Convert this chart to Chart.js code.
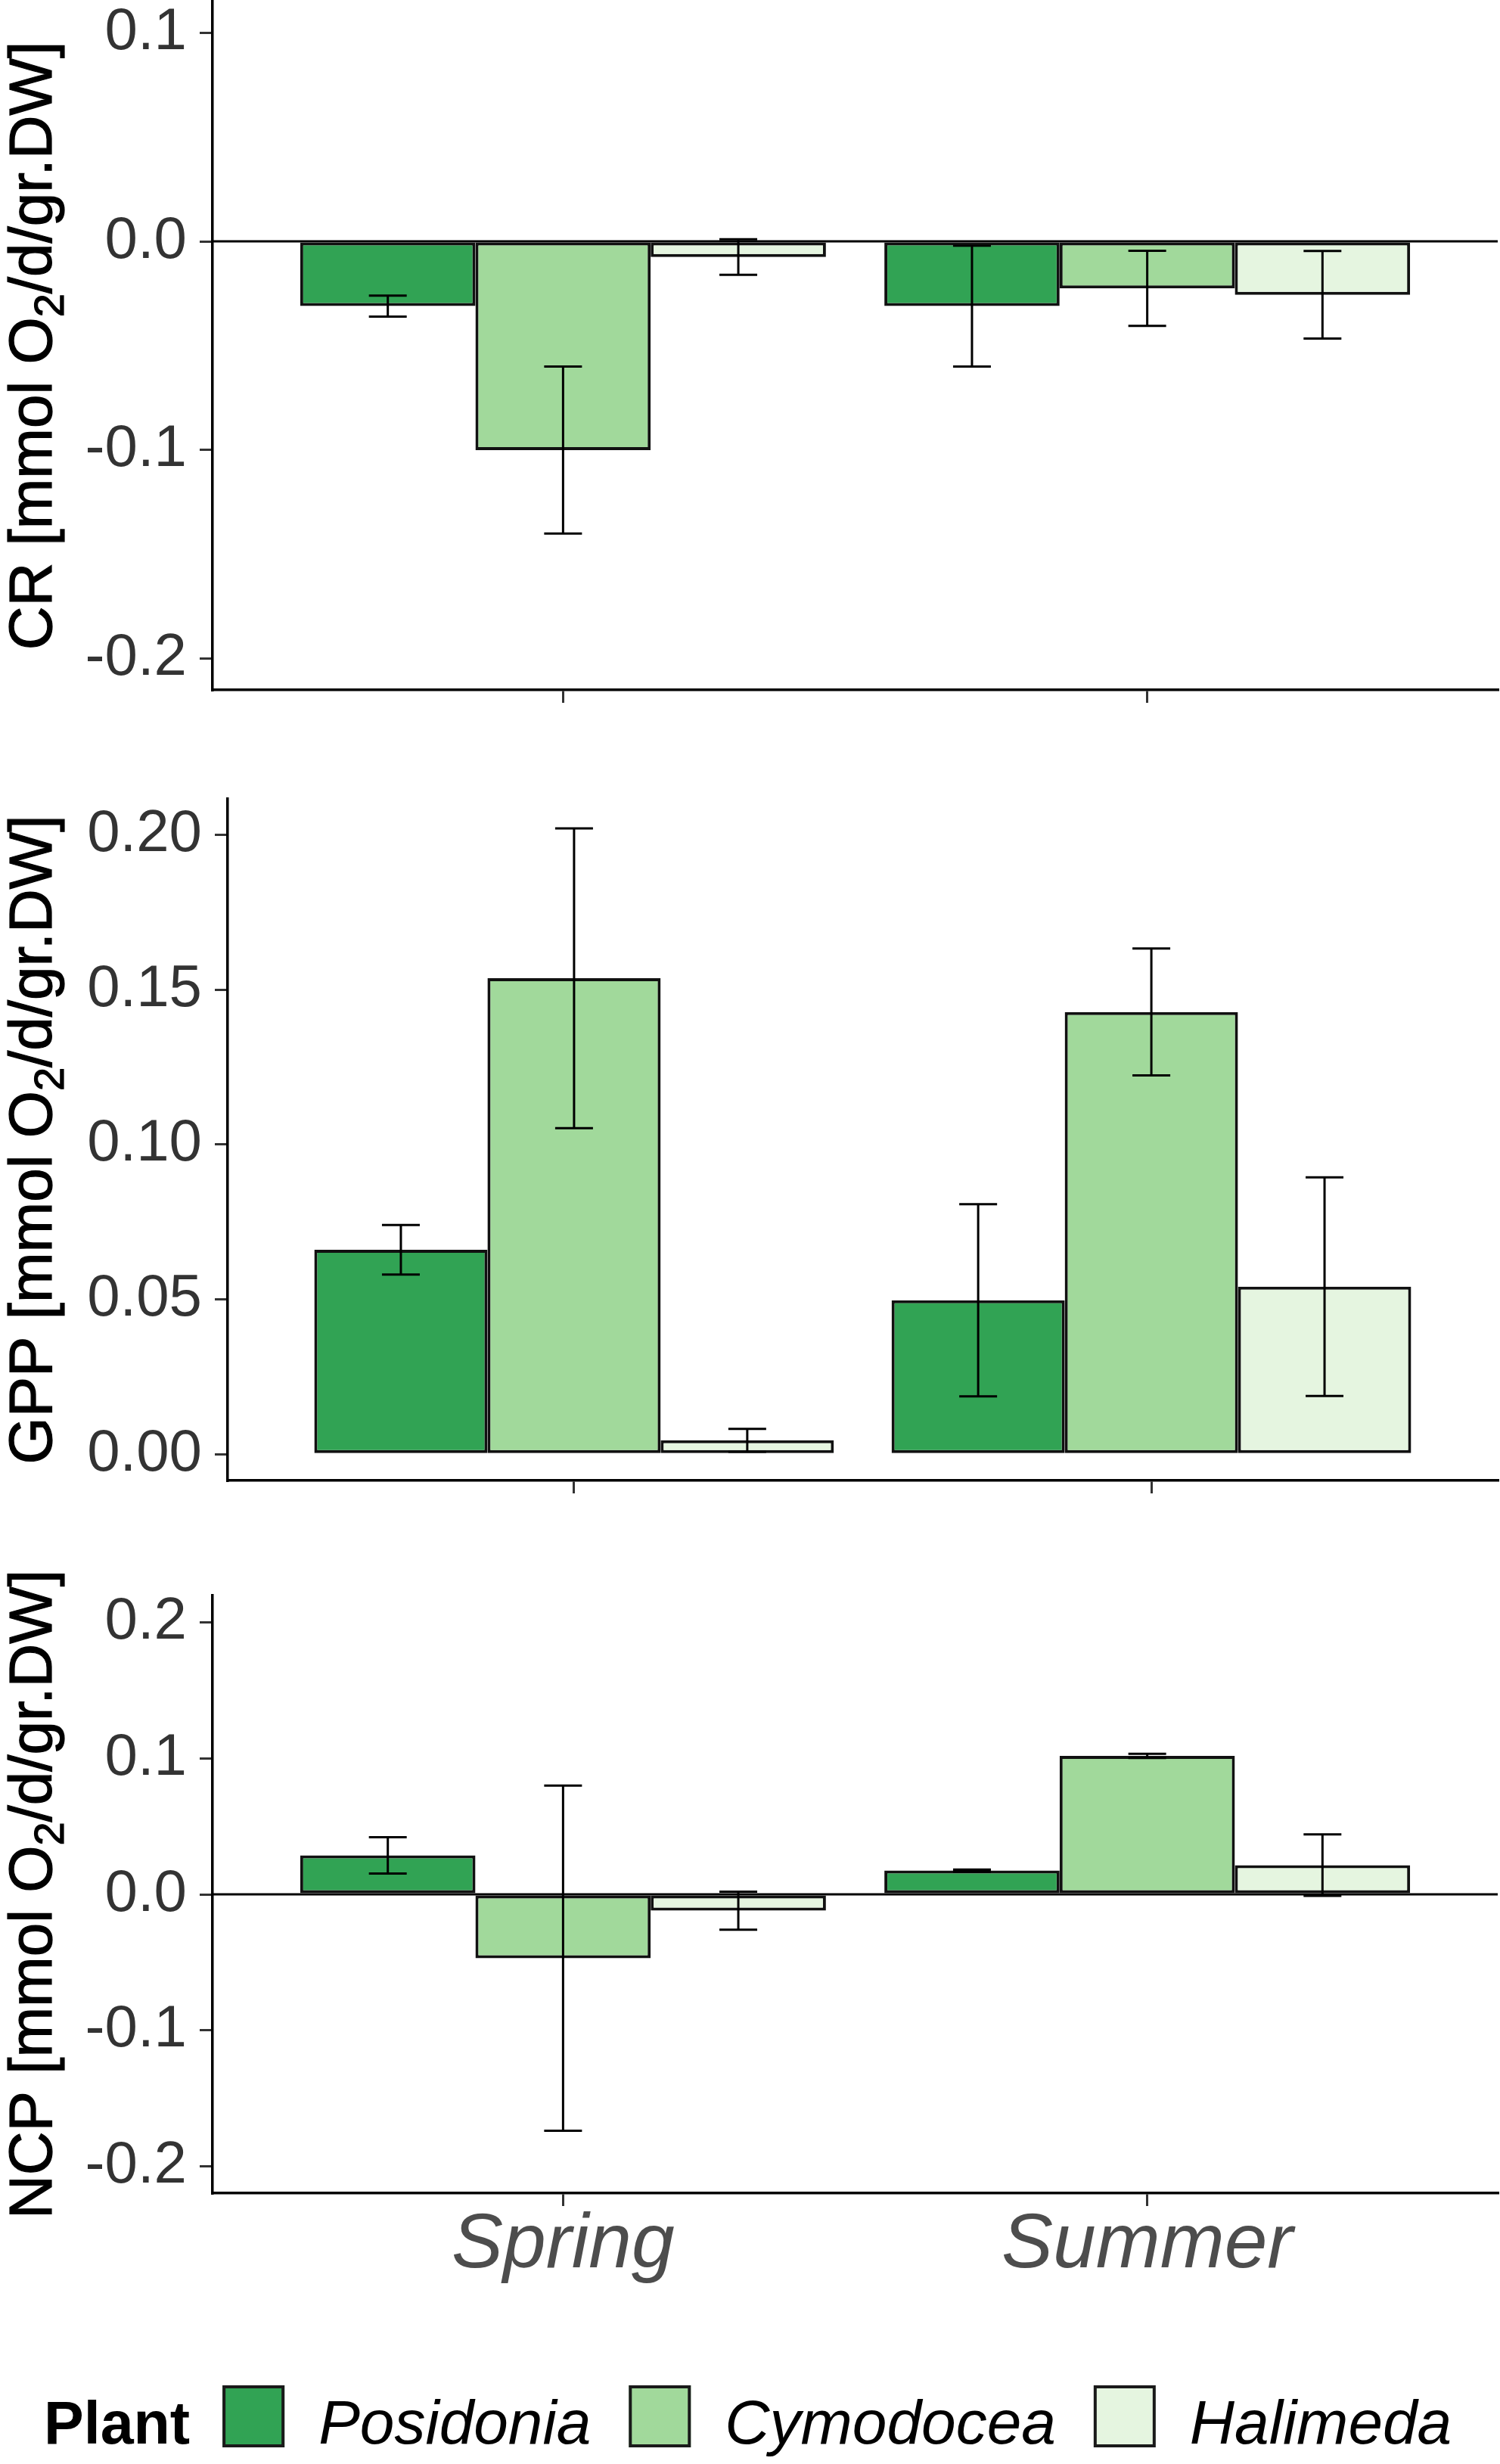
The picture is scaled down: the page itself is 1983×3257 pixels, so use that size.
<!DOCTYPE html>
<html>
<head>
<meta charset="utf-8">
<script src="https://cdn.jsdelivr.net/npm/chart.js@4.4.1/dist/chart.umd.min.js"></script>
<style>
    html, body { margin: 0; padding: 0; background: #fff; }
    #wrap { position: relative; width: 1983px; height: 3257px; }
    canvas { position: absolute; left: 0; }
</style>
</head>
<body>
<div id="wrap">
    <canvas id="crChart" width="1983" height="1000" style="top:0"></canvas>
    <canvas id="gppChart" width="1983" height="1020" style="top:1000px"></canvas>
    <canvas id="ncpChart" width="1983" height="1237" style="top:2020px"></canvas>
</div>
<script>
const seasons = ['Spring', 'Summer'];
const seasonPositions = [0, 1];
const plants = ['Posidonia', 'Cymodocea', 'Halimeda'];
const plantColors = ['#31a354', '#a1d99b', '#e5f5e0'];

// CR (respiration), values per season [Spring, Summer]
const crPosidonia = [-0.031, -0.031];
const crCymodocea = [-0.100, -0.0225];
const crHalimeda = [-0.0075, -0.0256];
const crPosidoniaErr = [0.005, 0.029];
const crCymodoceaErr = [0.040, 0.018];
const crHalimedaErr = [0.0085, 0.021];
const crTicks = [-0.2, -0.1, 0, 0.1];
const crTickLabels = ['-0.2', '-0.1', '0.0', '0.1'];

// GPP
const gppPosidonia = [0.066, 0.0497];
const gppCymodocea = [0.1537, 0.1428];
const gppHalimeda = [0.0045, 0.0541];
const gppPosidoniaErr = [0.008, 0.031];
const gppCymodoceaErr = [0.0484, 0.0205];
const gppHalimedaErr = [0.0037, 0.0353];
const gppTicks = [0, 0.05, 0.1, 0.15, 0.2];
const gppTickLabels = ['0.00', '0.05', '0.10', '0.15', '0.20'];

// NCP
const ncpPosidonia = [0.0287, 0.0175];
const ncpCymodocea = [-0.047, 0.1019];
const ncpHalimeda = [-0.012, 0.0215];
const ncpPosidoniaErr = [0.0134, 0.0008];
const ncpCymodoceaErr = [0.127, 0.0015];
const ncpHalimedaErr = [0.014, 0.0226];
const ncpTicks = [-0.2, -0.1, 0, 0.1, 0.2];
const ncpTickLabels = ['-0.2', '-0.1', '0.0', '0.1', '0.2'];

const FONT = '"Liberation Sans", Arial, sans-serif';

const errorBarPlugin = {
    id: 'errorBars',
    afterDatasetsDraw(chart) {
        const ctx = chart.ctx;
        const yScale = chart.scales.y;
        ctx.save();
        ctx.strokeStyle = '#000';
        ctx.lineWidth = 3;
        chart.data.datasets.forEach((ds, i) => {
            const meta = chart.getDatasetMeta(i);
            meta.data.forEach((bar, j) => {
                const m = ds.data[j].y;
                const e = ds.errorBars[j];
                const yTop = yScale.getPixelForValue(m + e);
                const yBot = yScale.getPixelForValue(m - e);
                ctx.beginPath();
                ctx.moveTo(bar.x, yTop); ctx.lineTo(bar.x, yBot);
                ctx.moveTo(bar.x - 25, yTop); ctx.lineTo(bar.x + 25, yTop);
                ctx.moveTo(bar.x - 25, yBot); ctx.lineTo(bar.x + 25, yBot);
                ctx.stroke();
            });
        });
        ctx.restore();
    }
};

const zeroLinePlugin = {
    id: 'zeroLine',
    beforeDatasetsDraw(chart, args, opts) {
        if (!opts.display) return;
        const a = chart.chartArea;
        const y = chart.scales.y.getPixelForValue(0);
        const ctx = chart.ctx;
        ctx.save();
        ctx.strokeStyle = '#000';
        ctx.lineWidth = 3;
        ctx.beginPath();
        ctx.moveTo(a.left, y); ctx.lineTo(a.right, y);
        ctx.stroke();
        ctx.restore();
    }
};

const yTitlePlugin = {
    id: 'yTitle',
    afterDraw(chart, args, opts) {
        const ctx = chart.ctx;
        const a = chart.chartArea;
        const parts = [
            [opts.pre, '80px ' + FONT, 0],
            ['2', '56px ' + FONT, 16],
            [opts.post, '80px ' + FONT, 0]
        ];
        ctx.save();
        let total = 0;
        parts.forEach(p => { ctx.font = p[1]; p.push(ctx.measureText(p[0]).width); total += p[3]; });
        ctx.translate(68, (a.top + a.bottom) / 2);
        ctx.rotate(-Math.PI / 2);
        ctx.fillStyle = '#000';
        ctx.strokeStyle = '#000';
        ctx.lineWidth = 1.2;
        ctx.textAlign = 'left';
        ctx.textBaseline = 'alphabetic';
        let x = -total / 2;
        parts.forEach(p => {
            ctx.font = p[1];
            ctx.fillText(p[0], x, p[2]);
            ctx.strokeText(p[0], x, p[2]);
            x += p[3];
        });
        ctx.restore();
    }
};

const plantLegendPlugin = {
    id: 'plantLegend',
    afterDraw(chart, args, opts) {
        if (!opts.display) return;
        const ctx = chart.ctx;
        const baseline = 1210, keyTop = 1133, keySize = 82;
        ctx.save();
        ctx.fillStyle = '#000';
        ctx.textBaseline = 'alphabetic';
        ctx.textAlign = 'left';
        ctx.font = 'bold 79px ' + FONT;
        let x = 58;
        ctx.fillText('Plant', x, baseline);
        x += ctx.measureText('Plant').width + 43;
        chart.data.datasets.forEach(ds => {
            ctx.fillStyle = ds.backgroundColor;
            ctx.fillRect(x, keyTop, keySize, keySize);
            ctx.strokeStyle = '#1a1a1a';
            ctx.lineWidth = 4;
            ctx.strokeRect(x + 2, keyTop + 2, keySize - 4, keySize - 4);
            x += keySize + 45;
            ctx.fillStyle = '#000';
            ctx.font = 'italic 82px ' + FONT;
            ctx.fillText(ds.label, x, baseline);
            x += ctx.measureText(ds.label).width + 50;
        });
        ctx.restore();
    }
};

function makeDatasets(means, errs) {
    return plants.map((p, i) => ({
        label: p,
        data: seasonPositions.map((sx, j) => ({ x: sx, y: means[i][j] })),
        errorBars: errs[i],
        backgroundColor: plantColors[i],
        borderColor: '#111',
        borderWidth: 4,
        borderSkipped: false,
        categoryPercentage: 0.9,
        barPercentage: 1.0
    }));
}

function makePanel(id, o) {
    return new Chart(document.getElementById(id), {
        type: 'bar',
        data: { datasets: makeDatasets(o.means, o.errs) },
        options: {
            responsive: false,
            animation: false,
            layout: { padding: { top: o.top, right: 3, bottom: 0, left: 0 } },
            plugins: {
                legend: { display: false },
                tooltip: { enabled: false },
                zeroLine: { display: o.zeroLine },
                yTitle: { pre: o.titlePre, post: '/d/gr.DW]' },
                plantLegend: { display: o.legend }
            },
            scales: {
                x: {
                    type: 'linear',
                    min: -0.6,
                    max: 1.6,
                    offset: false,
                    afterBuildTicks: s => { s.ticks = seasonPositions.map(v => ({ value: v })); },
                    afterFit: s => { s.height = o.xHeight; s.paddingLeft = 0; s.paddingRight = 0; },
                    border: { display: true, color: '#000', width: 3.5 },
                    grid: { display: true, offset: false, drawOnChartArea: false, drawTicks: true, tickLength: 17, color: '#333', lineWidth: 3 },
                    ticks: {
                        autoSkip: false,
                        maxRotation: 0,
                        padding: 2,
                        color: '#4d4d4d',
                        font: { family: FONT, size: 102, style: 'italic', lineHeight: 1 },
                        callback: v => o.showSeasons ? seasons[v] : ''
                    }
                },
                y: {
                    min: o.range[0],
                    max: o.range[1],
                    afterBuildTicks: s => { s.ticks = o.ticks.map(v => ({ value: v })); },
                    afterFit: s => { s.width = o.yWidth; s.paddingTop = 0; s.paddingBottom = 0; },
                    border: { display: true, color: '#000', width: 3.5 },
                    grid: { display: true, drawOnChartArea: false, drawTicks: true, tickLength: 17, color: '#333', lineWidth: 3 },
                    ticks: {
                        autoSkip: false,
                        padding: 17,
                        color: '#333',
                        font: { family: FONT, size: 78 },
                        callback: (v, i) => o.tickLabels[i]
                    }
                }
            }
        },
        plugins: [zeroLinePlugin, errorBarPlugin, yTitlePlugin, plantLegendPlugin]
    });
}

makePanel('crChart', {
    means: [crPosidonia, crCymodocea, crHalimeda],
    errs: [crPosidoniaErr, crCymodoceaErr, crHalimedaErr],
    ticks: crTicks, tickLabels: crTickLabels, range: [-0.215, 0.115],
    top: 2, xHeight: 88, yWidth: 281, zeroLine: true, showSeasons: false, legend: false,
    titlePre: 'CR [mmol O'
});

makePanel('gppChart', {
    means: [gppPosidonia, gppCymodocea, gppHalimeda],
    errs: [gppPosidoniaErr, gppCymodoceaErr, gppHalimedaErr],
    ticks: gppTicks, tickLabels: gppTickLabels, range: [-0.0085, 0.2116],
    top: 56, xHeight: 63, yWidth: 301, zeroLine: false, showSeasons: false, legend: false,
    titlePre: 'GPP [mmol O'
});

makePanel('ncpChart', {
    means: [ncpPosidonia, ncpCymodocea, ncpHalimeda],
    errs: [ncpPosidoniaErr, ncpCymodoceaErr, ncpHalimedaErr],
    ticks: ncpTicks, tickLabels: ncpTickLabels, range: [-0.22, 0.22],
    top: 89, xHeight: 358, yWidth: 281, zeroLine: true, showSeasons: true, legend: true,
    titlePre: 'NCP [mmol O'
});
</script>
</body>
</html>
